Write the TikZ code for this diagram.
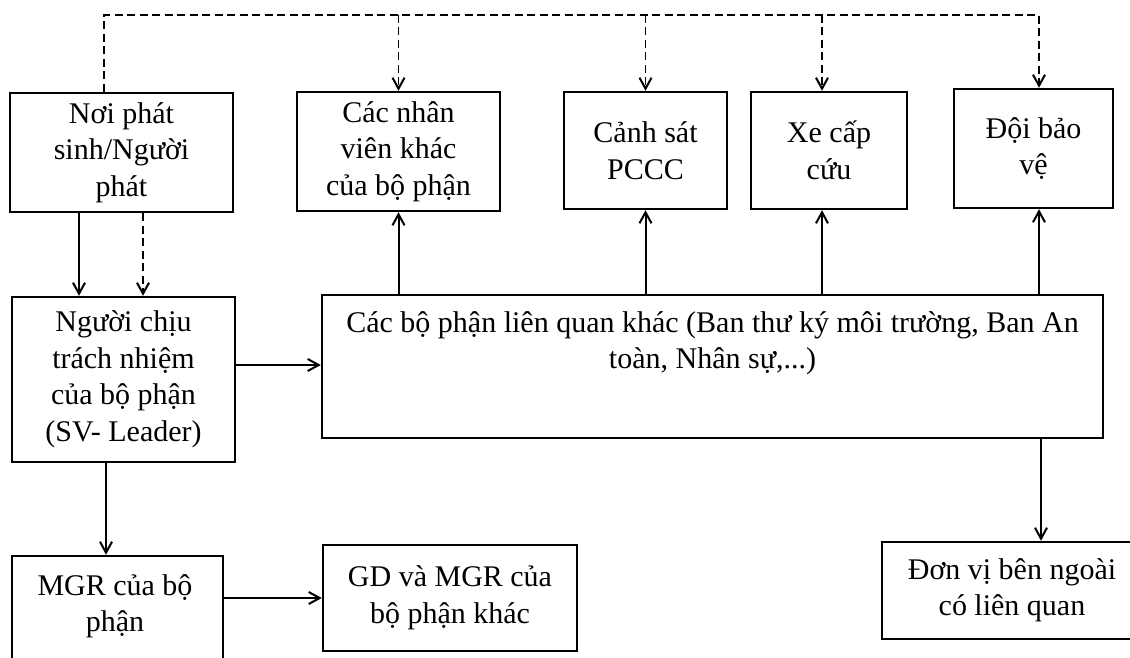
\documentclass[tikz,border=0pt]{standalone}
\usepackage{fontspec}
\setmainfont{Liberation Serif}
\usepackage{tikz}
\usetikzlibrary{arrows.meta,calc}

\tikzset{
  box/.style={shape=rectangle,draw=black,line width=2.4pt,align=center,inner sep=0pt,font=\fontsize{30}{36.5}\selectfont},
  boxtext/.style={align=center,inner sep=0pt,font=\fontsize{30}{36.5}\selectfont},
  link/.style={line width=2pt,-{Straight Barb[length=11pt,width=12pt,line width=2pt]}},
  dlink/.style={line width=1.8pt,dash pattern=on 8pt off 4.5pt},
}

\begin{document}
\begin{tikzpicture}[x=1pt,y=-1pt]
\useasboundingbox (0,0) rectangle (1130,658);
\clip (0,0) rectangle (1130,658);

\node[box,minimum width=223,minimum height=119] (src) at (121.5,152.5) {Nơi phát\\sinh/Người\\phát};
\node[box,minimum width=203,minimum height=119] (staff) at (398.5,151.5) {Các nhân\\viên khác\\của bộ phận};
\node[box,minimum width=163,minimum height=117] (police) at (645.5,150.5) {Cảnh sát\\PCCC};
\node[box,minimum width=156,minimum height=117] (amb) at (829,150.5) {Xe cấp\\cứu};
\node[box,minimum width=159,minimum height=119] (guard) at (1033.5,148.5) {Đội bảo\\vệ};

\node[box,minimum width=223,minimum height=165] (lead) at (123.5,379.5) {Người chịu\\trách nhiệm\\của bộ phận\\(SV- Leader)};
\node[box,minimum width=781,minimum height=143] (dept) at (712.5,366.5) {};
\node[boxtext,anchor=north] (deptlabel) at (712.5,311) {Các bộ phận liên quan khác (Ban thư ký môi trường, Ban An\\toàn, Nhân sự,...)};

\node[box,minimum width=211,minimum height=164] (mgr) at (117.5,638) {};
\node[boxtext,anchor=north] (mgrlabel) at (115,574) {MGR của bộ\\phận};
\node[box,minimum width=254,minimum height=106] (gd) at (450,598) {GD và MGR của\\bộ phận khác};
\node[box,minimum width=260,minimum height=97] (ext) at (1012,590.5) {Đơn vị bên ngoài\\có liên quan};

\coordinate (dtl) at (104,15);
\coordinate (dtr) at (1039,15);
\coordinate (ambx) at (822,0);
\coordinate (guardx) at (1039,0);
\coordinate (extx) at (1041,0);

% dashed alarm line
\draw[link,dlink] (dtl |- src.north) -- (dtl) -- (dtr) -- (dtr |- guard.north);
\draw[link,dlink] (dtl -| staff.north) -- (staff.north);
\draw[link,dlink] (dtl -| police.north) -- (police.north);
\draw[link,dlink] (dtl -| ambx) -- (ambx |- amb.north);

\draw[link] ($(src.south)+(-42.5,0)$) coordinate (s1) -- (s1 |- lead.north);
\draw[link,dlink] ($(src.south)+(21.5,0)$) coordinate (s2) -- (s2 |- lead.north);
\draw[link] ($(lead.south)+(-17.5,0)$) coordinate (l1) -- (l1 |- mgr.north);
\draw[link] ($(lead.east)+(0,-14.5)$) coordinate (l2) -- (l2 -| dept.west);
\draw[link] (mgr.east |- gd.west) -- (gd.west);

\draw[link] (dept.north -| staff.south) -- (staff.south);
\draw[link] (dept.north -| police.south) -- (police.south);
\draw[link] (ambx |- dept.north) -- (ambx |- amb.south);
\draw[link] (guardx |- dept.north) -- (guardx |- guard.south);
\draw[link] (extx |- dept.south) -- (extx |- ext.north);
\end{tikzpicture}
\end{document}
